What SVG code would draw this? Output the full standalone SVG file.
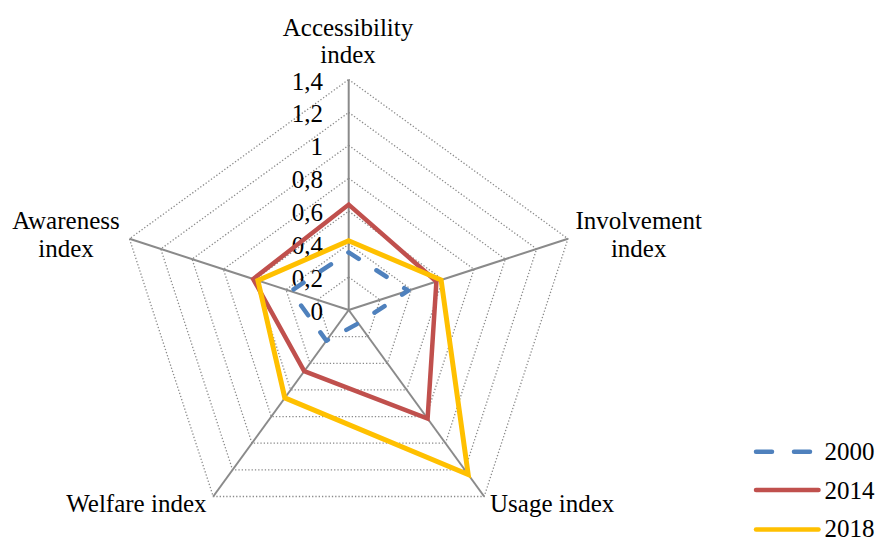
<svg xmlns="http://www.w3.org/2000/svg" width="875" height="537" viewBox="0 0 875 537">
<style>
text{font-family:'Liberation Serif','Times New Roman',serif;font-size:25px;fill:#000}
.grid{fill:none;stroke:#8a8a8a;stroke-width:1.3;stroke-dasharray:1.3 2}
.axis{stroke:#8a8a8a;stroke-width:2;fill:none}
.s2000{fill:none;stroke:#4F81BD;stroke-width:4.5;stroke-linecap:round;stroke-linejoin:round;stroke-dasharray:12 21}
.s2014{fill:none;stroke:#C0504D;stroke-width:4.5;stroke-linejoin:miter}
.s2018{fill:none;stroke:#FFC000;stroke-width:5;stroke-linejoin:miter}
.tick{text-anchor:end}
.mid{text-anchor:middle}
</style>
<rect width="875" height="537" fill="#fff"/>
<g id="grid">
<polygon class="grid" points="348.7,277.07 380.02,299.82 368.06,336.64 329.34,336.64 317.38,299.82"/>
<polygon class="grid" points="348.7,244.14 411.34,289.65 387.41,363.28 309.99,363.28 286.06,289.65"/>
<polygon class="grid" points="348.7,211.21 442.66,279.47 406.77,389.92 290.63,389.92 254.74,279.47"/>
<polygon class="grid" points="348.7,178.28 473.98,269.30 426.13,416.56 271.27,416.56 223.42,269.30"/>
<polygon class="grid" points="348.7,145.35 505.30,259.12 445.48,443.20 251.92,443.20 192.10,259.12"/>
<polygon class="grid" points="348.7,112.42 536.62,248.95 464.84,469.84 232.56,469.84 160.78,248.95"/>
<polygon class="grid" points="348.7,79.49 567.94,238.77 484.19,496.48 213.21,496.48 129.46,238.77"/>
</g>
<g id="axes">
<line class="axis" x1="348.7" y1="310" x2="348.7" y2="79.49"/>
<line class="axis" x1="348.7" y1="310" x2="567.94" y2="238.77"/>
<line class="axis" x1="348.7" y1="310" x2="484.19" y2="496.48"/>
<line class="axis" x1="348.7" y1="310" x2="213.21" y2="496.48"/>
<line class="axis" x1="348.7" y1="310" x2="129.46" y2="238.77"/>
</g>
<g id="ticks">
<text class="tick" x="323" y="320">0</text>
<text class="tick" x="323" y="287">0,2</text>
<text class="tick" x="323" y="254.1">0,4</text>
<text class="tick" x="323" y="221.2">0,6</text>
<text class="tick" x="323" y="188.3">0,8</text>
<text class="tick" x="323" y="155.4">1</text>
<text class="tick" x="323" y="122.4">1,2</text>
<text class="tick" x="323" y="89.5">1,4</text>
</g>
<g id="axis-labels">
<text class="mid" x="348" y="36">Accessibility</text>
<text class="mid" x="348" y="63">index</text>
<text class="mid" x="638.7" y="229">Involvement</text>
<text class="mid" x="638.7" y="256.5">index</text>
<text class="mid" x="66" y="229">Awareness</text>
<text class="mid" x="66" y="256.5">index</text>
<text x="490" y="511.7">Usage index</text>
<text x="206.5" y="511.7" text-anchor="end">Welfare index</text>
</g>
<g id="series">
<polygon id="series-2000" class="s2000" points="348.7,252.4 408.2,290.7 358.4,323.3 326.4,340.7 290.8,291.2"/>
<polygon id="series-2014" class="s2014" points="348.7,204.6 436.4,281.5 427.6,418.6 304.2,371.2 253.2,279.0"/>
<polygon id="series-2018" class="s2018" points="348.7,240.8 441.1,280.0 468.2,474.5 284.8,397.9 257.9,280.5"/>
</g>
<g id="legend">
<line x1="756" y1="451.7" x2="810" y2="451.7" stroke="#4F81BD" stroke-width="4.5" stroke-linecap="round" stroke-dasharray="16 22"/>
<text x="824.5" y="460">2000</text>
<line x1="756" y1="490" x2="818.5" y2="490" stroke="#C0504D" stroke-width="4.5" stroke-linecap="round"/>
<text x="824.5" y="498.5">2014</text>
<line x1="756" y1="529.5" x2="818.5" y2="529.5" stroke="#FFC000" stroke-width="4.5" stroke-linecap="round"/>
<text x="824.5" y="536.5">2018</text>
</g>
</svg>
